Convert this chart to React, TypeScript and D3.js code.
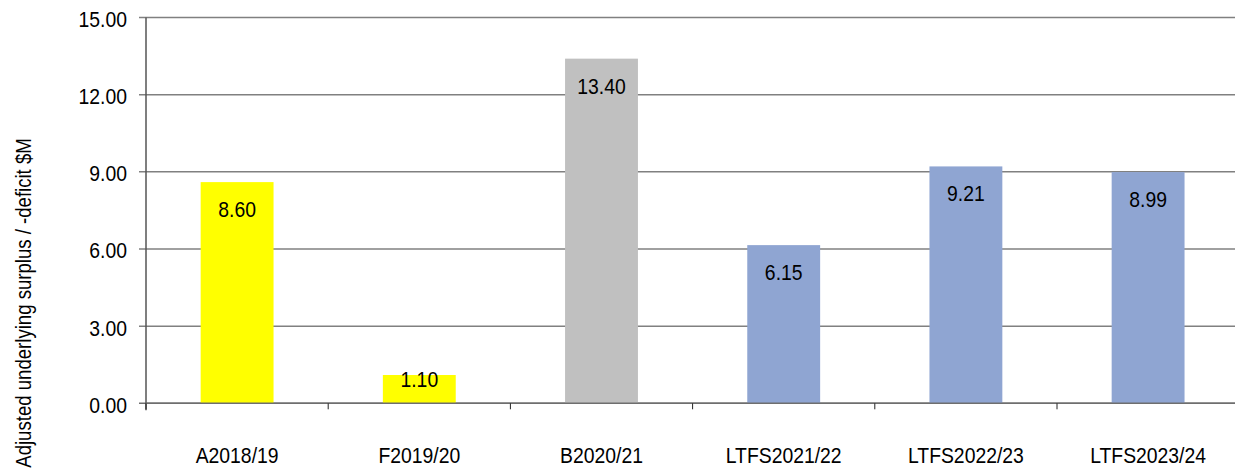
import React from "react";
import * as d3 from "d3";

// Budget years and the adjusted underlying surplus for each ($M)
const categories = ["A2018/19", "F2019/20", "B2020/21", "LTFS2021/22", "LTFS2022/23", "LTFS2023/24"];
const values = [8.6, 1.1, 13.4, 6.15, 9.21, 8.99];
const barColors = ["#ffff00", "#ffff00", "#c0c0c0", "#8fa5d2", "#8fa5d2", "#8fa5d2"];
const yTicks = [0, 3, 6, 9, 12, 15];
const yTitle = "Adjusted underlying surplus / -deficit $M";

const W = 1235;
const H = 475;
const FONT = "'Liberation Sans', Arial, sans-serif";
const FS = 22;
const SX = 0.88; // condensed glyph width

type LabelProps = {
  x: number;
  y: number;
  anchor?: "start" | "middle" | "end";
  rotate?: number;
  sx?: number;
  children: React.ReactNode;
};

// Text drawn with a horizontally condensed face
function Label({ x, y, anchor = "middle", rotate = 0, sx = SX, children }: LabelProps) {
  return (
    <text
      transform={`translate(${x},${y}) rotate(${rotate}) scale(${sx},1)`}
      textAnchor={anchor}
      fontSize={FS}
      fill="#000"
    >
      {children}
    </text>
  );
}

export default function App() {
  const left = 146;
  const step = 182.2;
  const x = d3
    .scaleBand<string>()
    .domain(categories)
    .range([left, left + step * categories.length])
    .paddingInner(0.6)
    .paddingOuter(0.3);
  const y = d3.scaleLinear().domain([0, 15]).range([403.3, 17.5]);
  const y0 = y(0);
  const right = left + step * categories.length;
  const fmt = d3.format(".2f");

  return (
    <svg
      width={W}
      height={H}
      style={{ position: "absolute", left: 0, top: 0, background: "#fff" }}
      fontFamily={FONT}
    >
      {/* horizontal gridlines with short outside ticks */}
      {yTicks.map((t) => (
        <g key={t}>
          <line
            x1={left - 7}
            x2={right}
            y1={y(t)}
            y2={y(t)}
            stroke={t === 0 ? "#6e6e6e" : "#808080"}
            strokeWidth={1.5}
          />
          <Label x={127} y={y(t) + 9.5} anchor="end">
            {fmt(t)}
          </Label>
        </g>
      ))}

      {/* bars */}
      {categories.map((c, i) => (
        <rect
          key={c}
          x={x(c)}
          y={y(values[i])}
          width={x.bandwidth()}
          height={y0 - y(values[i])}
          fill={barColors[i]}
        />
      ))}

      {/* value labels at the inside end of each bar */}
      {categories.map((c, i) => {
        const top = y(values[i]);
        const baseline = Math.min(top + 35, y0 - 16.5);
        return (
          <Label key={c} x={(x(c) as number) + x.bandwidth() / 2} y={baseline}>
            {fmt(values[i])}
          </Label>
        );
      })}

      {/* axes */}
      <line x1={left} x2={left} y1={y(15)} y2={y0 + 7} stroke="#555" strokeWidth={1.5} />
      <line x1={left} x2={right} y1={y0} y2={y0} stroke="#6e6e6e" strokeWidth={1.5} />
      {d3.range(categories.length + 1).map((i) => (
        <line
          key={i}
          x1={left + i * step}
          x2={left + i * step}
          y1={y0}
          y2={y0 + 6}
          stroke="#222"
          strokeWidth={1}
        />
      ))}

      {/* category labels */}
      {categories.map((c) => (
        <Label key={c} x={(x(c) as number) + x.bandwidth() / 2} y={463}>
          {c}
        </Label>
      ))}

      {/* y-axis title */}
      <Label x={31} y={303} rotate={-90} sx={0.845}>
        {yTitle}
      </Label>
    </svg>
  );
}
